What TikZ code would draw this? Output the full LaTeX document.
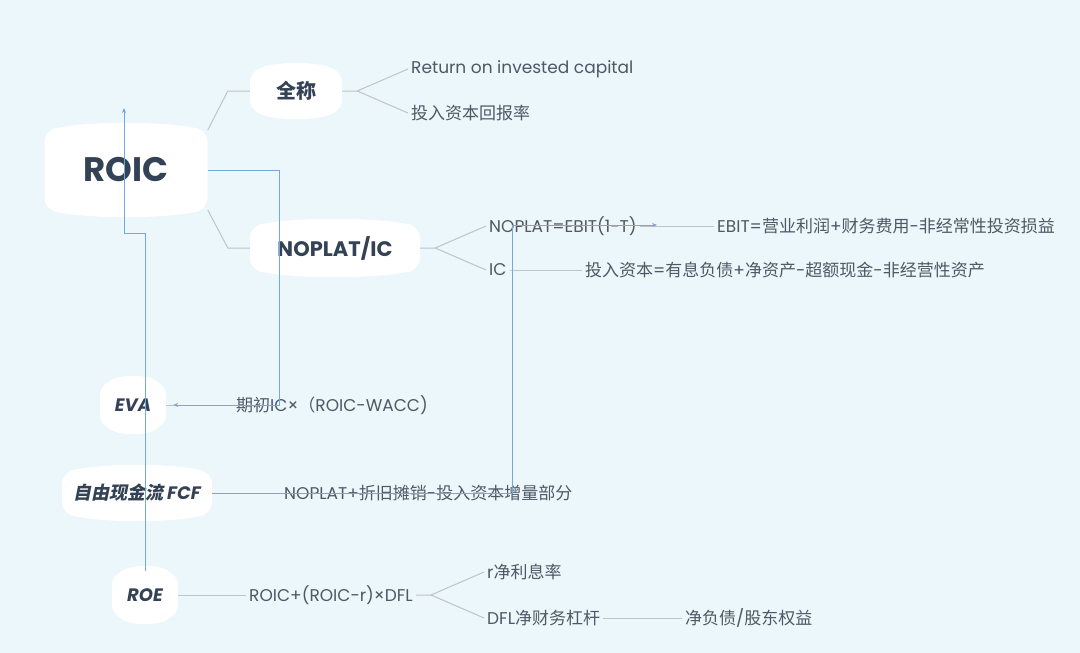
\documentclass[tikz,border=0pt]{standalone}
\usepackage{fontspec}
\setmainfont{Poppins}
\newfontfamily\zhf{Noto Sans CJK SC}
\newfontfamily\zhfi{Noto Sans CJK SC}[FakeSlant=0.2]
\newcommand\zh[1]{{\zhf #1}}
\usetikzlibrary{arrows.meta,calc}
\pgfdeclarelayer{bgl}
\pgfdeclarelayer{lnl}
\pgfsetlayers{bgl,lnl,main}
\definecolor{bgc}{RGB}{235,247,250}
\definecolor{titlec}{RGB}{52,66,86}
\definecolor{txtc}{RGB}{78,88,102}
\definecolor{grayc}{RGB}{190,196,200}
\definecolor{bluec}{RGB}{112,170,222}
\tikzset{
  blob/.style={fill=white, rounded corners=14pt, inner sep=0pt, text=titlec, font=\bfseries},
  lbl/.style={anchor=west, inner sep=3pt, text=txtc, font=\fontsize{17}{20}\selectfont},
  gl/.style={draw=grayc, line width=1pt},
  bl/.style={draw=bluec, line width=1pt, -{Stealth[length=5pt,width=4pt]}},
}
\newcommand\pillow[1]{%
  \fill[white] ($(#1.north west)+(9,1)$) .. controls ($(#1.north west)!0.25!(#1.north east)+(0,-7)$) and ($(#1.north west)!0.75!(#1.north east)+(0,-7)$) .. ($(#1.north east)+(-9,1)$) -- cycle;
  \fill[white] ($(#1.south west)+(9,-1)$) .. controls ($(#1.south west)!0.25!(#1.south east)+(0,7)$) and ($(#1.south west)!0.75!(#1.south east)+(0,7)$) .. ($(#1.south east)+(-9,-1)$) -- cycle;}
\begin{document}
\begin{tikzpicture}[x=1pt,y=-1pt]
\begin{pgfonlayer}{bgl}
\fill[bgc] (0,0) rectangle (1080,653);
\end{pgfonlayer}
\useasboundingbox (0,0) rectangle (1080,653);

% main nodes
\node[blob, minimum width=163pt, minimum height=84pt] (roic) at (126,170) {\fontsize{34}{38}\selectfont ROIC};
\node[blob, minimum width=92pt, minimum height=46pt] (qc) at (296,91) {\fontsize{20}{24}\selectfont\zh{全称}};
\node[blob, minimum width=170pt, minimum height=48pt] (nic) at (335,248) {\fontsize{21}{24}\selectfont NOPLAT/IC};
\node[blob, minimum width=66pt, minimum height=48pt] (eva) at (133,405) {\fontsize{18}{20}\selectfont\itshape EVA};
\node[blob, minimum width=150pt, minimum height=46pt] (fcf) at (137,493) {\fontsize{18}{20}\selectfont{\zhfi 自由现金流} {\itshape FCF}};
\node[blob, minimum width=66pt, minimum height=48pt] (roe) at (145,595) {\fontsize{18}{20}\selectfont\itshape ROE};

% text labels
\node[lbl] (ret) at (408,69) {Return on invested capital};
\node[lbl] (trz) at (408,113) {\zh{投入资本回报率}};
\node[lbl] (nop) at (486,226) {NOPLAT=EBIT(1-T)};
\node[lbl] (ebit) at (714,226) {EBIT=\zh{营业利润}+\zh{财务费用}-\zh{非经常性投资损益}};
\node[lbl] (ic) at (486,270) {IC};
\node[lbl] (icdef) at (582,270) {\zh{投入资本}=\zh{有息负债}+\zh{净资产}-\zh{超额现金}-\zh{非经营性资产}};
\node[lbl] (evadef) at (233,405) {\zh{期初}IC×\zh{（}ROIC-WACC)};
\node[lbl] (fcfdef) at (281,493) {NOPLAT+\zh{折旧摊销}-\zh{投入资本增量部分}};
\node[lbl] (roedef) at (246,595) {ROIC+(ROIC-r)×DFL};
\node[lbl] (rr) at (484,572) {r\zh{净利息率}};
\node[lbl] (dfl) at (484,618) {DFL\zh{净财务杠杆}};
\node[lbl] (nd) at (682,618) {\zh{净负债}/\zh{股东权益}};

% pillow edges and gray connectors
\begin{pgfonlayer}{lnl}
\pillow{roic}\pillow{qc}\pillow{nic}\pillow{eva}\pillow{fcf}\pillow{roe}
\draw[gl] (roic.26) -- ([xshift=-22pt]qc.west) -- (qc.west);
\draw[gl] (roic.-26) -- ([xshift=-22pt]nic.west) -- (nic.west);
\draw[gl] (qc.east) -- ++(15,0) coordinate (f1) -- (ret.west);
\draw[gl] (f1) -- (trz.west);
\draw[gl] (nic.east) -- ++(15,0) coordinate (f2) -- (nop.west);
\draw[gl] (f2) -- (ic.west);
\draw[gl] (nop.east) -- (ebit.west);
\draw[gl] (ic.east) -- (icdef.west);
\draw[gl] (eva.east) -- (evadef.west);
\draw[gl] (fcf.east) -- (fcfdef.west);
\draw[gl] (roe.east) -- (roedef.west);
\draw[gl] (roedef.east) -- ++(15,0) coordinate (f3) -- (rr.west);
\draw[gl] (f3) -- (dfl.west);
\draw[gl] (dfl.east) -- (nd.west);
\end{pgfonlayer}

% blue connectors
\coordinate (c2) at (657,225);
\coordinate (k3) at (124,233);
\coordinate (c3) at (124,108);
\draw[bl] (roic.east) -- ++(72,0) |- ([xshift=7pt]eva.east);
\draw[bl] (fcf.east) -- ++(300,0) |- (c2);
\draw[bl] (roe.north) |- (k3) -- (c3);
\end{tikzpicture}
\end{document}
